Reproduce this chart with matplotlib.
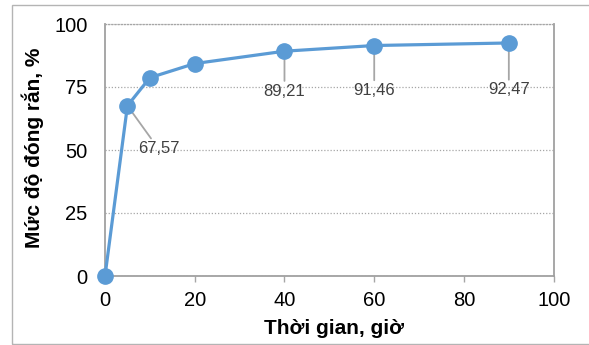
import matplotlib
matplotlib.use("Agg")
import matplotlib.pyplot as plt
from matplotlib.patches import Rectangle

# Data
time_h = [0, 5, 10, 20, 40, 60, 90]
cure_pct = [0, 67.57, 78.7, 84.3, 89.21, 91.46, 92.47]
label_idx = [1, 4, 5, 6]
label_text = ["67,57", "89,21", "91,46", "92,47"]
label_offsets = [(31, -43), (0, -40), (0, -45), (0, -47)]  # pixels
x_ticks = [0, 20, 40, 60, 80, 100]
y_ticks = [0, 25, 50, 75, 100]
x_title = "Thời gian, giờ"
y_title = "Mức độ đóng rắn, %"

plt.rcParams['font.family'] = ['Liberation Sans', 'DejaVu Sans']

W, H = 589, 345
fig = plt.figure(figsize=(W / 100, H / 100), dpi=100)
ax = fig.add_axes([105 / W, (H - 276) / H, (553.7 - 105) / W, (276 - 24) / H])

# outer chart frame
fig.patches.append(Rectangle((12 / W, 0.6 / H), 1.2, (344.3 - 5.3) / H,
                             transform=fig.transFigure, fill=False,
                             edgecolor='#b4b4b4', lw=1.0, clip_on=False))

blue = '#5b9bd5'
gray = '#a6a6a6'
ax.plot(time_h, cure_pct, color=blue, lw=2.3, marker='o', markersize=11,
        markeredgecolor=blue, markerfacecolor=blue, clip_on=False, zorder=5)

for i, t, off in zip(label_idx, label_text, label_offsets):
    ax.annotate(t, xy=(time_h[i], cure_pct[i]), xytext=off,
                textcoords='offset pixels', ha='center', va='center',
                fontsize=12, color='#404040', zorder=4,
                arrowprops=dict(arrowstyle='-', color=gray, lw=1.3,
                                shrinkA=0, shrinkB=0))

ax.set_xlim(0, 100)
ax.set_ylim(0, 100)
ax.set_xticks(x_ticks)
ax.set_yticks(y_ticks)
ax.tick_params(axis='x', direction='out', length=4.5, width=1.0, color=gray,
               labelsize=14.5, pad=6, labelcolor='black')
ax.tick_params(axis='y', length=0, labelsize=14.5, pad=12.5, labelcolor='black')

ax.yaxis.grid(True, color=gray, lw=0.9, linestyle=(0, (1, 1.5)))
ax.set_axisbelow(True)

for s in ['left', 'bottom', 'right']:
    ax.spines[s].set_color('#a0a0a0')
    ax.spines[s].set_linewidth(1.3)
ax.spines['top'].set_color(gray)
ax.spines['top'].set_linewidth(0.9)
ax.spines['top'].set_linestyle((0, (1, 1.5)))

ax.set_xlabel(x_title, fontsize=15, fontweight='bold')
ax.xaxis.label.set_va('center')
ax.xaxis.set_label_coords(0.51, -0.21)
ax.set_ylabel(y_title, fontsize=15, fontweight='bold')
ax.yaxis.label.set_va('center')
ax.yaxis.set_label_coords(-0.162, 0.51)

fig.savefig('out.png', dpi=100)
